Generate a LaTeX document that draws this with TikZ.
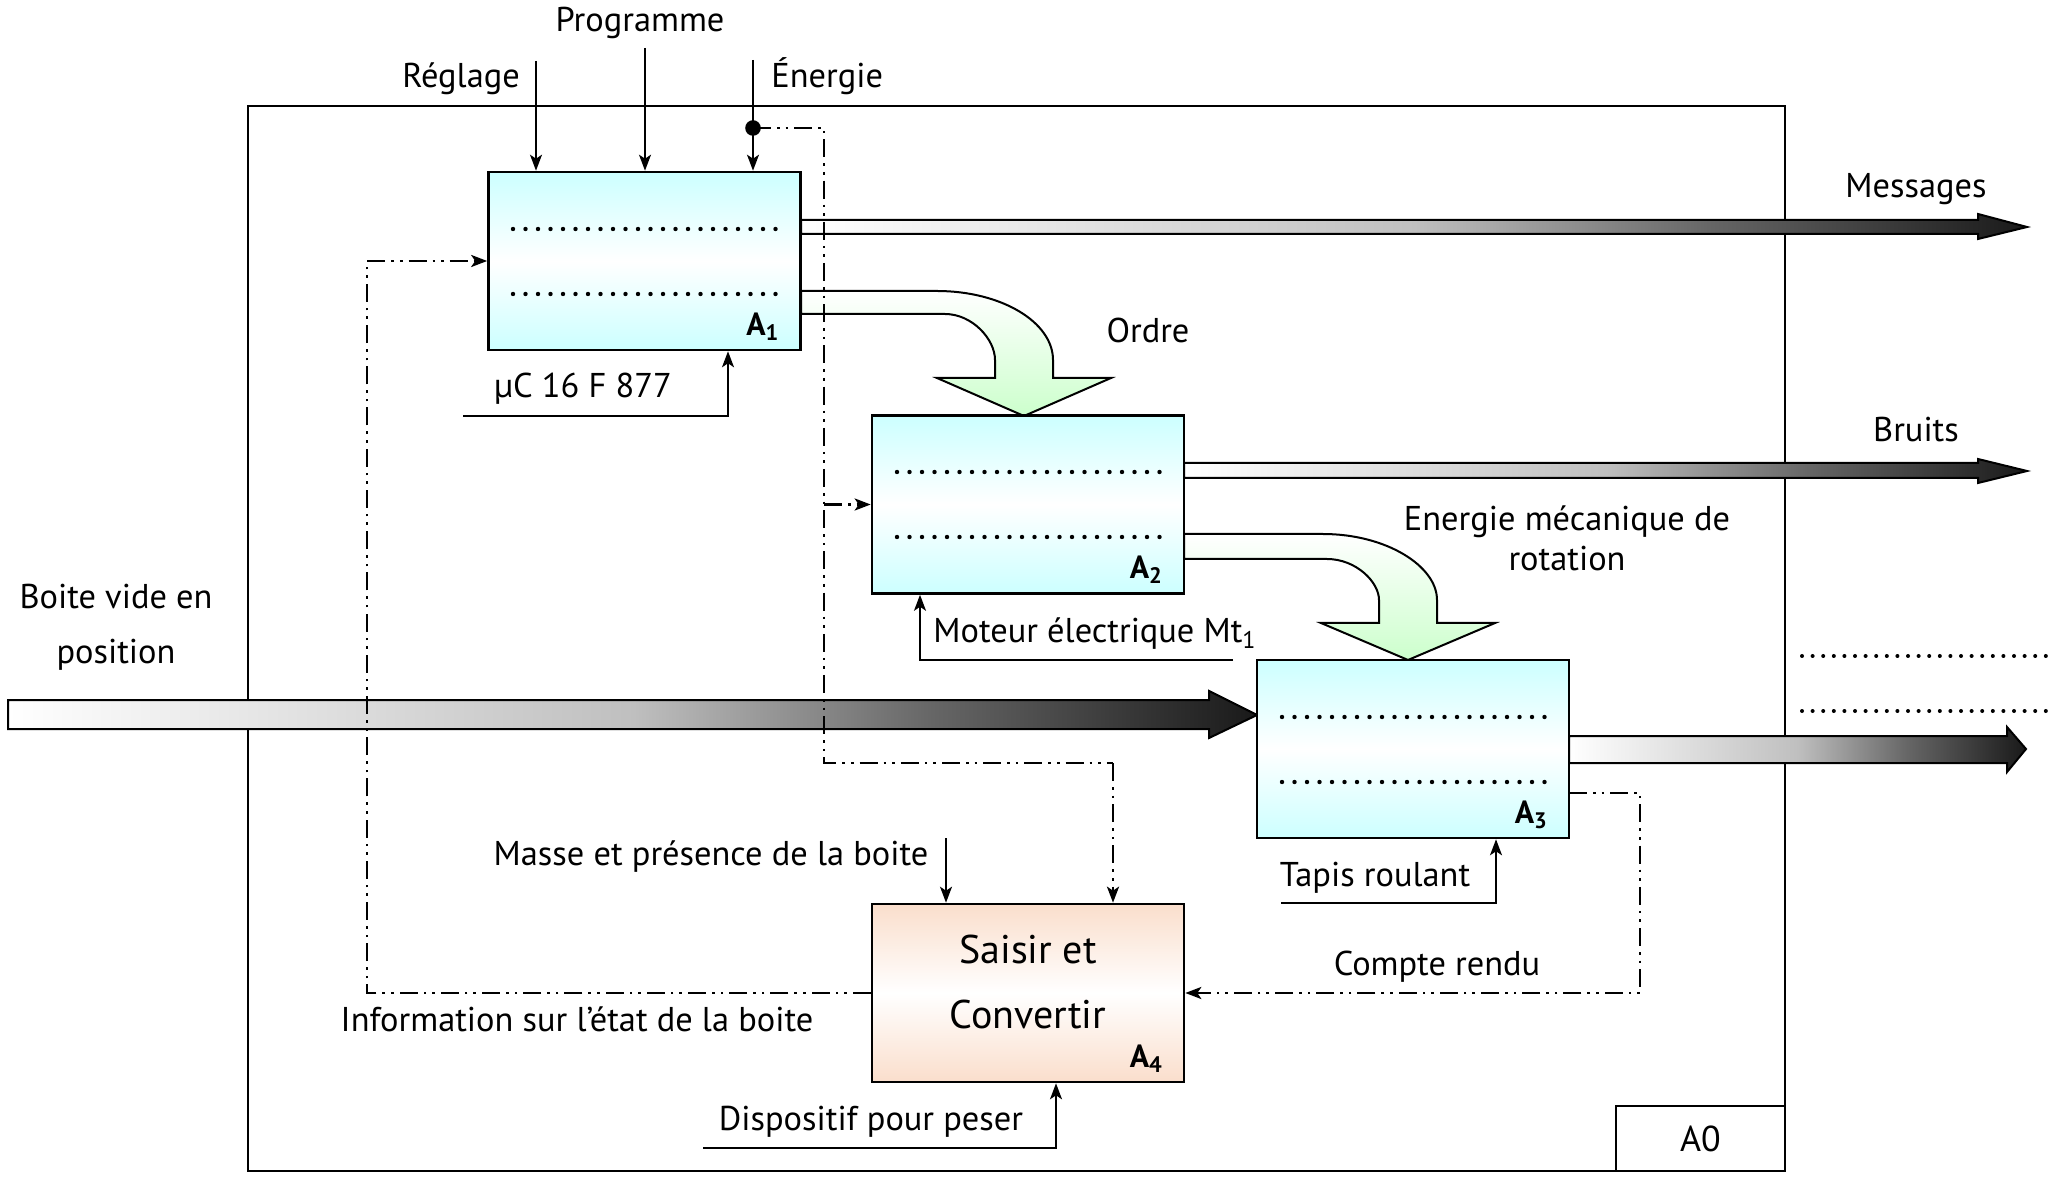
\documentclass[tikz,border=0pt]{standalone}
\usepackage{fontspec}
\setmainfont{PT Sans}
\usetikzlibrary{arrows.meta,calc}
\definecolor{boxc}{RGB}{204,255,255}
\definecolor{peachc}{RGB}{250,222,204}
\definecolor{greenc}{RGB}{204,255,204}
\pgfdeclarehorizontalshading{grayramp}{100bp}{color(0bp)=(white); color(25bp)=(white); color(50bp)=(black!25); color(62bp)=(black!60); color(75bp)=(black!90); color(100bp)=(black!90)}
\newcommand{\lblfont}{\fontsize{17.2}{20}\selectfont}
\newcommand{\bigfont}{\fontsize{20}{23}\selectfont}
\newcommand{\alabfont}{\fontsize{16}{18}\selectfont\bfseries}
\tikzset{
  fbox/.style={draw, line width=1.3pt, minimum width=156pt, minimum height=89pt, inner sep=0pt},
  cyanbox/.style={fbox, top color=boxc, bottom color=boxc, middle color=white},
  peachbox/.style={fbox, top color=peachc, bottom color=peachc, middle color=white},
  lbl/.style={font=\lblfont, inner sep=0pt, anchor=base},
  alab/.style={font=\alabfont, inner sep=0pt, anchor=base east},
  wire/.style={line width=0.8pt},
  arr/.style={-{Stealth[length=8pt,width=6pt,inset=2pt]}},
  dd/.style={line width=1.4pt, dash pattern=on 9pt off 3pt on 1.3pt off 3pt on 1.3pt off 3pt},
  dotl/.style={line width=2.2pt, line cap=round, dash pattern=on 0pt off 6.25pt},
  dotr/.style={line width=2pt, line cap=round, dash pattern=on 0pt off 5.3pt},
  grad/.style={shading=grayramp, draw, line width=1pt},
  bendarrow/.style={draw, line width=1pt, top color=white, bottom color=greenc},
}
\begin{document}
\begin{tikzpicture}[x=0.5pt, y=-0.5pt]
\useasboundingbox (0,0) rectangle (2060,1186);

% frame
\node[draw, line width=1.1pt, minimum width=768.5pt, minimum height=532.5pt, inner sep=0pt] (frame) at (1016.5,638.5) {};
\node[draw, line width=1.1pt, minimum width=84.5pt, minimum height=32.5pt, inner sep=0pt, font=\fontsize{18}{20}\selectfont] (A0) at (1700.5,1138.5) {A0};

% gradient arrows
\path[grad] (801,220) -- (1978,220) -- (1978,214) -- (2027,227) -- (1978,239) -- (1978,234) -- (801,234) -- cycle;
\path[grad] (1184,463) -- (1978,463) -- (1978,459) -- (2027,471) -- (1978,483) -- (1978,478) -- (1184,478) -- cycle;
\path[grad] (1569,736) -- (2007,736) -- (2007,727) -- (2026,749) -- (2007,772) -- (2007,763) -- (1569,763) -- cycle;
\path[grad] (8,700) -- (1209,700) -- (1209,691) -- (1257,715) -- (1209,738) -- (1209,729) -- (8,729) -- cycle;

% bent arrows
\path[bendarrow] (801,291) -- (937,291) .. controls (1001,291) and (1053,322) .. (1053,360) -- (1053,378) -- (1111,378) -- (1024,416) -- (937,378) -- (995,378) -- (995,360) .. controls (995,339) and (972,314) .. (945,314) -- (801,314) -- cycle;
\path[bendarrow] (1184,534) -- (1323,534) .. controls (1386,534) and (1437,566) .. (1437,600) -- (1437,623) -- (1495,623) -- (1408,660) -- (1321,623) -- (1379,623) -- (1379,600) .. controls (1379,582) and (1356,559) .. (1327,559) -- (1184,559) -- cycle;

% boxes
\node[cyanbox] (A1) at (644.5,261) {};
\node[cyanbox] (A2) at (1028,504.5) {};
\node[cyanbox] (A3) at (1413,749) {};
\node[peachbox] (A4) at (1028,993) {};

% dotted lines in boxes
\draw[dotl] (513,229) -- (779,229);
\draw[dotl] (513,294) -- (779,294);
\draw[dotl] (897,472) -- (1163,472);
\draw[dotl] (897,537) -- (1163,537);
\draw[dotl] (1282,717) -- (1548,717);
\draw[dotl] (1282,782) -- (1548,782);
\draw[dotr] (1802,656) -- (2047,656);
\draw[dotr] (1802,711) -- (2047,711);

% box labels
\node[alab] at ($(A1.south east)+(-22,-16)$) {A\textsubscript{1}};
\node[alab] at ($(A2.south east)+(-22,-16)$) {A\textsubscript{2}};
\node[alab] at ($(A3.south east)+(-22,-16)$) {A\textsubscript{3}};
\node[alab] at ($(A4.south east)+(-22,-16)$) {A\textsubscript{4}};
\node[font=\bigfont, inner sep=0pt, anchor=base] (t4a) at (1028,963) {Saisir et};
\node[font=\bigfont, inner sep=0pt, anchor=base] (t4b) at (1028,1028) {Convertir};

% control inputs
\coordinate (rg) at (536,61);
\coordinate (pg) at (645,48);
\coordinate (en) at (753,60);
\draw[wire, arr] (rg) -- (rg |- A1.north);
\draw[wire, arr] (pg) -- (pg |- A1.north);
\draw[wire, arr] (en) -- (en |- A1.north);
\coordinate (ms) at (946,838);
\draw[wire, arr] (ms) -- (ms |- A4.north);

% mechanisms
\coordinate (mc) at (463,416);
\draw[wire, arr] (mc) -- (728,416) -- (728,416 |- A1.south);
\coordinate (mt) at (1233,660);
\draw[wire, arr] (mt) -- (920,660) -- (920,660 |- A2.south);
\coordinate (tp) at (1281,903);
\draw[wire, arr] (tp) -- (1496,903) -- (1496,903 |- A3.south);
\coordinate (dp) at (703,1148);
\draw[wire, arr] (dp) -- (1056,1148) -- (1056,1148 |- A4.south);

% dash-dot connectors
\fill (753,128) circle (3.9pt);
\coordinate (dotc) at (753,128);
\draw[dd] (dotc) -- (824,128) -- (824,763) -- (1113,763);
\draw[dd, arr] (1113,763) -- (1113,763 |- A4.north);
\draw[dd, arr] (824,504.5) -- (A2.west);
\draw[dd, arr] (A4.west) -- (367,993) -- (367,261) -- (A1.west);
\draw[dd, arr] (1569,793) -- (1640,793) -- (1640,993) -- (A4.east);

% labels
\node[lbl] (lProg) at (640,32) {Programme};
\node[lbl] (lReg) at (461,88) {Réglage};
\node[lbl, anchor=base west] (lEn) at (771,88) {Énergie};
\node[lbl] (lMsg) at (1916,198) {Messages};
\node[lbl] (lBr) at (1916,442) {Bruits};
\node[lbl] (lOr) at (1148,343) {Ordre};
\node[lbl] (lEm1) at (1567,531) {Energie mécanique de};
\node[lbl] (lEm2) at (1567,571) {rotation};
\node[lbl] (lMu) at (583,398) {µC 16 F 877};
\node[lbl] (lMo) at (1095,643) {Moteur électrique Mt\textsubscript{1}};
\node[lbl] (lBo1) at (116,609) {Boite vide en};
\node[lbl] (lBo2) at (116,663) {position};
\node[lbl] (lTa) at (1375,886) {Tapis roulant};
\node[lbl] (lCo) at (1437,975) {Compte rendu};
\node[lbl] (lMa) at (711,865) {Masse et présence de la boite};
\node[lbl] (lIn) at (577,1031) {Information sur l’état de la boite};
\node[lbl] (lDi) at (871,1130) {Dispositif pour peser};
\end{tikzpicture}
\end{document}
